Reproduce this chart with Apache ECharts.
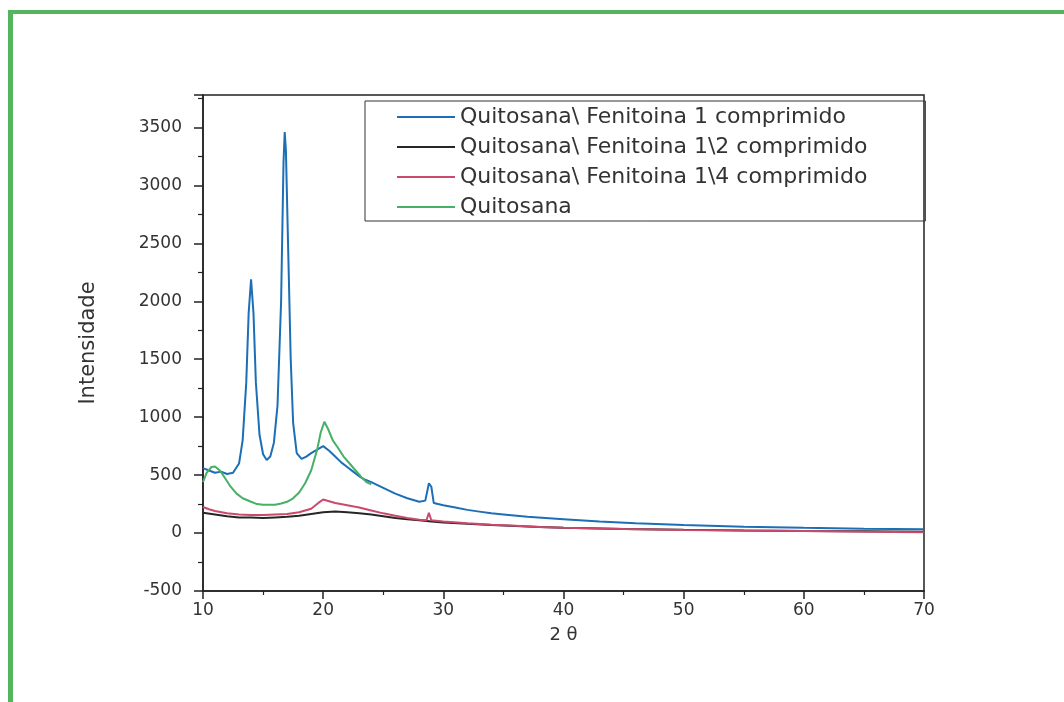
<!DOCTYPE html>
<html>
    <head>
        <meta charset="UTF-8">
        <title>Quitosana / Fenitoina DRX</title>
        <script type="text/javascript" src="https://cdn.jsdelivr.net/npm/echarts@6/dist/echarts.min.js"></script>
    </head>
    <body style="height: 100%; margin: 0; overflow: hidden;">
        <div id="container" style="width: 1064px; height: 702px;"></div>
    </body>
    <script type="text/javascript">
        var dom = document.getElementById("container");
        var myChart = echarts.init(dom);

        // series names (legend order)
        const seriesNames = [
          'Quitosana\\ Fenitoina 1 comprimido',
          'Quitosana\\ Fenitoina 1\\2 comprimido',
          'Quitosana\\ Fenitoina 1\\4 comprimido',
          'Quitosana'
        ];

        // 2 theta / intensity
        const x1 = [10, 10.5, 11, 11.5, 12, 12.5, 13, 13.3, 13.6, 13.8, 14.0, 14.2, 14.4, 14.7, 15.0, 15.3, 15.6, 15.9,
                    16.2, 16.5, 16.7, 16.8, 16.9, 17.1, 17.3, 17.5, 17.8, 18.2, 18.6, 19.0, 19.5, 20.0, 20.5, 21.0,
                    21.5, 22, 22.5, 23, 23.5, 24, 25, 26, 27, 28, 28.5, 28.8, 29.0, 29.2, 30, 31, 32, 33, 34, 35,
                    37, 40, 43, 46, 50, 55, 60, 65, 70];
        const y1 = [560, 540, 520, 530, 510, 520, 600, 800, 1300, 1900, 2190, 1900, 1300, 850, 680, 630, 660, 780,
                    1100, 2000, 3200, 3460, 3300, 2400, 1500, 950, 690, 640, 660, 690, 720, 750, 710, 660,
                    610, 570, 530, 490, 460, 440, 390, 340, 300, 270, 280, 430, 400, 260, 240, 220, 200, 185, 170, 160,
                    140, 120, 100, 85, 70, 55, 45, 38, 32];

        const x2 = [10, 11, 12, 13, 14, 15, 16, 17, 18, 19, 20, 21, 22, 23, 24, 25, 26, 27, 28, 29, 30,
                    32, 34, 36, 38, 40, 45, 50, 55, 60, 65, 70];
        const y2 = [175, 160, 145, 135, 135, 130, 135, 140, 150, 165, 180, 185, 180, 170, 160, 145, 130, 120, 110, 100, 92,
                    80, 70, 60, 52, 45, 35, 28, 22, 18, 15, 12];

        const x3 = [10, 10.5, 11, 12, 13, 14, 15, 16, 17, 18, 19, 19.6, 20, 20.5, 21, 22, 23, 24, 25, 26, 27, 28,
                    28.6, 28.8, 29.0, 30, 32, 34, 36, 38, 40, 45, 50, 55, 60, 65, 70];
        const y3 = [225, 205, 190, 170, 160, 155, 155, 160, 165, 180, 210, 260, 290, 275, 260, 240, 220, 195, 170, 150, 130, 115,
                    110, 175, 110, 100, 85, 72, 62, 52, 45, 35, 27, 22, 17, 12, 8];

        const x4 = [10, 10.3, 10.7, 11, 11.4, 11.8, 12.3, 12.8, 13.3, 14, 14.5, 15, 16, 16.5, 17, 17.5, 18, 18.5,
                    19, 19.5, 19.8, 20.1, 20.4, 20.8, 21.2, 21.7, 22.2, 22.7, 23.2, 23.6, 24];
        const y4 = [440, 520, 570, 575, 540, 480, 400, 340, 300, 270, 250, 245, 245, 255, 270, 300, 350, 430,
                    540, 720, 870, 960, 900, 800, 740, 660, 600, 540, 480, 440, 420];

        const xTicks = [10, 20, 30, 40, 50, 60, 70];
        const yTicks = [-500, 0, 500, 1000, 1500, 2000, 2500, 3000, 3500];

        const colors = ['#1c6fb6', '#262626', '#c94a6c', '#45b066'];

        function pairs(xs, ys) {
          return xs.map(function (x, i) { return [x, ys[i]]; });
        }
        const seriesData = [pairs(x1, y1), pairs(x2, y2), pairs(x3, y3), pairs(x4, y4)];

        var axisFont = 'DejaVu Sans';
        var option = {
          backgroundColor: '#ffffff',
          animation: false,
          color: colors,
          graphic: [
            { type: 'rect', left: 8, top: 10, shape: { width: 1056, height: 4 }, style: { fill: '#55b45e' } },
            { type: 'rect', left: 8, top: 10, shape: { width: 5, height: 692 }, style: { fill: '#55b45e' } }
          ],
          grid: {
            left: 203,
            top: 95,
            right: 140,
            bottom: 111,
            containLabel: false,
            show: true,
            borderColor: '#222',
            borderWidth: 1.5
          },
          legend: {
            orient: 'vertical',
            left: 365,
            top: 101,
            data: seriesNames,
            icon: 'rect',
            itemWidth: 58,
            itemHeight: 2,
            itemGap: 8,
            padding: [5, 58, 3, 32],
            borderColor: '#333',
            borderWidth: 1,
            textStyle: {
              fontFamily: axisFont,
              fontSize: 22,
              color: '#333',
              lineHeight: 21
            }
          },
          xAxis: {
            type: 'value',
            min: xTicks[0],
            max: xTicks[xTicks.length - 1],
            interval: 10,
            name: '2 θ',
            nameLocation: 'middle',
            nameGap: 35,
            nameTextStyle: { fontFamily: axisFont, fontSize: 18, color: '#333' },
            axisLine: { show: true, onZero: false, lineStyle: { color: '#222', width: 1.5 } },
            axisTick: { show: true, inside: false, length: 8, lineStyle: { color: '#222', width: 1.5 } },
            minorTick: { show: true, splitNumber: 2, length: 4, lineStyle: { color: '#222', width: 1.2 } },
            splitLine: { show: false },
            axisLabel: { margin: 11, fontFamily: axisFont, fontSize: 17, color: '#333' }
          },
          yAxis: {
            type: 'value',
            min: yTicks[0],
            max: 3780,
            interval: 500,
            name: 'Intensidade',
            nameLocation: 'middle',
            nameGap: 104,
            nameRotate: 90,
            nameTextStyle: { fontFamily: axisFont, fontSize: 21, color: '#333' },
            axisLine: { show: true, onZero: false, lineStyle: { color: '#222', width: 1.5 } },
            axisTick: { show: true, inside: false, length: 9, lineStyle: { color: '#222', width: 1.5 } },
            minorTick: { show: true, splitNumber: 2, length: 5, lineStyle: { color: '#222', width: 1.2 } },
            splitLine: { show: false },
            axisLabel: {
              margin: 21,
              fontFamily: axisFont,
              fontSize: 17,
              color: '#333',
              showMaxLabel: false,
              formatter: function (v) { return String(v); }
            }
          },
          series: seriesNames.map(function (name, i) {
            return {
              name: name,
              type: 'line',
              data: seriesData[i],
              showSymbol: false,
              symbol: 'none',
              lineStyle: { width: 2, color: colors[i] },
              z: 2 + i
            };
          })
        };

        if (option && typeof option === 'object') {
            myChart.setOption(option);
        }
    </script>
</html>
